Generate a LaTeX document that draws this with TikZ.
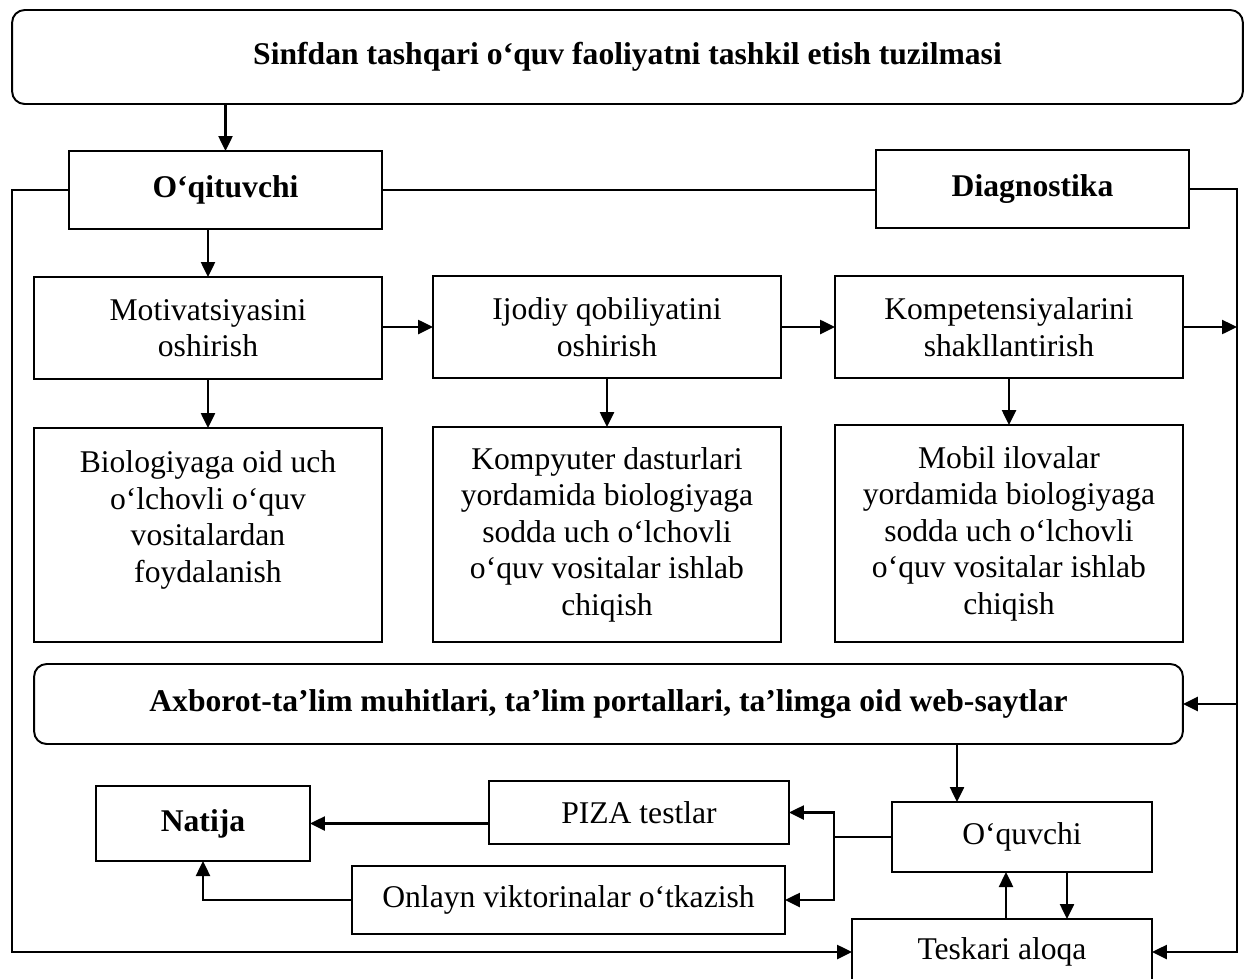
\documentclass[tikz,border=0pt]{standalone}
\usepackage{fontspec}
\setmainfont{Liberation Serif}
\usetikzlibrary{arrows.meta}

\begin{document}
\begin{tikzpicture}[x=0.02cm, y=-0.02cm,
  box/.style={draw, line width=1.1pt, inner sep=0pt, outer sep=0pt, align=center, font=\fontsize{18}{20.8}\selectfont},
  headbox/.style={box, font=\fontsize{18}{20.8}\selectfont\bfseries},
  roundbox/.style={headbox, rounded corners=0.25cm},
  arr/.style={line width=1.4pt, -{Triangle[length=0.3cm, width=0.28cm]}},
  link/.style={line width=1.4pt}]
  \useasboundingbox (0,0) rectangle (1245,978);
  \node[roundbox, minimum width=24.62cm, minimum height=1.88cm] (title) at (627.5,57) {Sinfdan tashqari o‘quv faoliyatni tashkil etish tuzilmasi};
  \node[headbox, minimum width=6.26cm, minimum height=1.56cm] (teacher) at (225.5,190) {O‘qituvchi};
  \node[headbox, minimum width=6.26cm, minimum height=1.56cm] (diag) at (1032.5,189) {Diagnostika};
  \node[box, minimum width=6.96cm, minimum height=2.04cm] (motiv) at (208,328) {Motivatsiyasini\\oshirish};
  \node[box, minimum width=6.96cm, minimum height=2.04cm] (ijod) at (607,327) {Ijodiy qobiliyatini\\oshirish};
  \node[box, minimum width=6.96cm, minimum height=2.04cm] (kompet) at (1009,327) {Kompetensiyalarini\\shakllantirish};
  \node[box, minimum width=6.96cm, minimum height=4.28cm] (bio) at (208,535) {Biologiyaga oid uch\\o‘lchovli o‘quv\\vositalardan\\foydalanish\\\mbox{}};
  \node[box, minimum width=6.96cm, minimum height=4.3cm] (soft) at (607,534.5) {Kompyuter dasturlari\\yordamida biologiyaga\\sodda uch o‘lchovli\\o‘quv vositalar ishlab\\chiqish};
  \node[box, minimum width=6.96cm, minimum height=4.34cm] (mobile) at (1009,533.5) {Mobil ilovalar\\yordamida biologiyaga\\sodda uch o‘lchovli\\o‘quv vositalar ishlab\\chiqish};
  \node[roundbox, minimum width=22.98cm, minimum height=1.6cm] (web) at (608.5,704) {Axborot-ta’lim muhitlari, ta’lim portallari, ta’limga oid web-saytlar};
  \node[box, minimum width=5.2cm, minimum height=1.4cm] (pupil) at (1022,837) {O‘quvchi};
  \node[box, minimum width=6cm, minimum height=1.32cm] (feedback) at (1002,952) {Teskari aloqa};
  \node[headbox, minimum width=4.28cm, minimum height=1.5cm] (result) at (203,823.5) {Natija};
  \node[box, minimum width=6cm, minimum height=1.26cm] (piza) at (639,812.5) {PIZA testlar};
  \node[box, minimum width=8.66cm, minimum height=1.36cm] (quiz) at (568.5,900) {Onlayn viktorinalar o‘tkazish};
  \coordinate (rside) at (1237,0);
  \coordinate (fork) at (834,0);
  \coordinate (down) at (957,0);
  \coordinate (upx) at (1006,0);
  \coordinate (dnx) at (1067,0);
  \draw[arr] (title.south -| teacher) -- (teacher.north);
  \draw[arr] (teacher.west) -- ++(-57,0) |- (feedback.west);
  \draw[link] (teacher.east) -- (teacher.east -| diag.west);
  \draw[arr] (diag.east) -- (diag.east -| rside) |- (feedback.east);
  \draw[arr] (teacher.south -| motiv) -- (motiv.north);
  \draw[arr] (ijod.west -| motiv.east) -- (ijod.west);
  \draw[arr] (ijod.east) -- (ijod.east -| kompet.west);
  \draw[arr] (kompet.east) -- (kompet.east -| rside);
  \draw[arr] (motiv.south) -- (bio.north);
  \draw[arr] (ijod.south) -- (soft.north);
  \draw[arr] (kompet.south) -- (mobile.north);
  \draw[arr] (web.east -| rside) -- (web.east);
  \draw[arr] (down |- web.south) -- (down |- pupil.north);
  \draw[arr] (upx |- feedback.north) -- (upx |- pupil.south);
  \draw[arr] (dnx |- pupil.south) -- (dnx |- feedback.north);
  \draw[link] (pupil.west) -- (pupil.west -| fork);
  \draw[arr] (pupil.west -| fork) |- (piza.east);
  \draw[arr] (pupil.west -| fork) |- (quiz.east);
  \draw[arr] (result.east -| piza.west) -- (result.east);
  \draw[arr] (quiz.west) -| (result.south);
\end{tikzpicture}
\end{document}
